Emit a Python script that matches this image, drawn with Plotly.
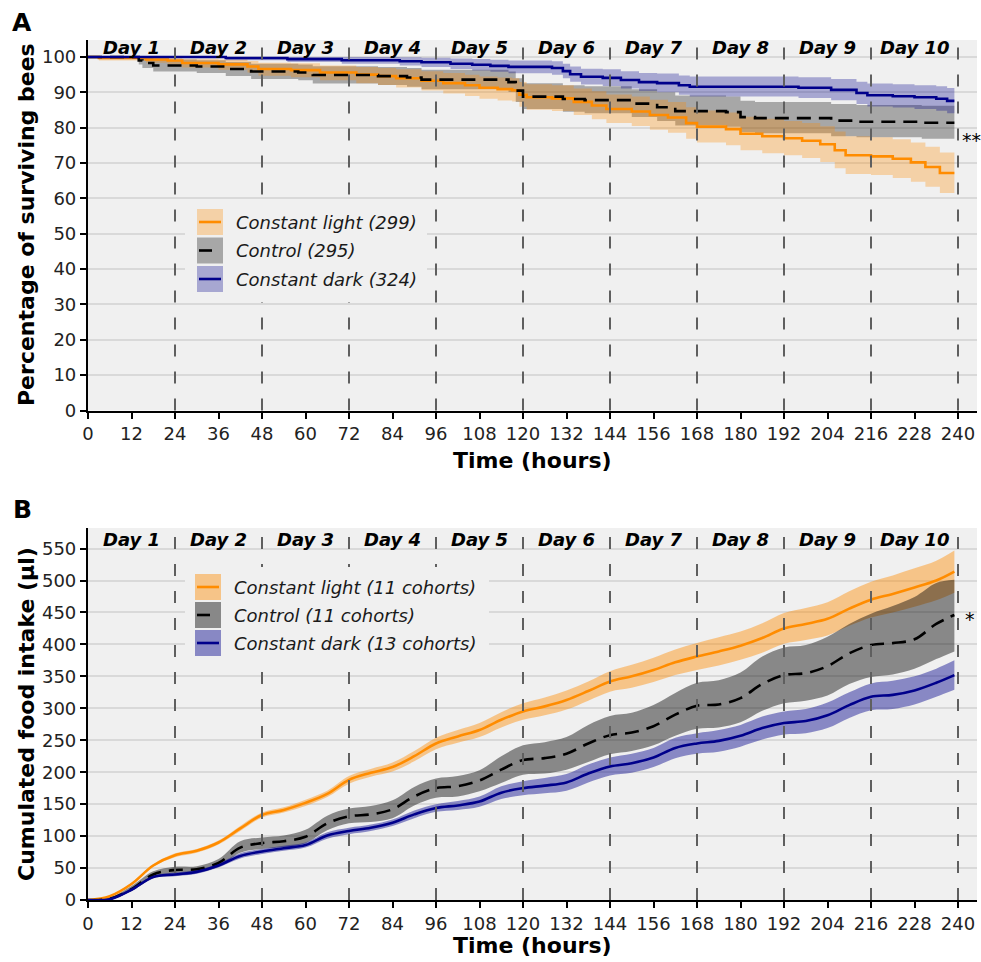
import plotly.graph_objects as go

W, H = 981, 962
FONT = "DejaVu Sans"

# ---------------- Panel A: survival (Kaplan-Meier steps, 95% CI) ----------------
light_t = [0, 3, 16, 22, 26, 36, 44, 47, 56, 64, 74, 80, 85, 92, 98, 104, 108, 113, 117, 119, 121, 128,
           134, 139, 143, 150, 155, 160, 165, 168, 176, 180, 186, 192, 197, 202, 206, 209, 216, 222, 227,
           231, 235, 239]
light_s = [100, 99.7, 99.3, 99.0, 98.3, 97.9, 97.3, 96.6, 96.3, 95.6, 95.0, 94.6, 94.0, 93.3, 92.6, 92.0,
           91.3, 90.9, 90.6, 89.3, 88.6, 88.3, 87.3, 86.3, 85.3, 84.6, 83.6, 82.9, 81.3, 80.3, 79.6, 78.3,
           77.6, 77.0, 76.3, 75.3, 73.6, 72.2, 71.9, 71.2, 70.2, 68.9, 67.2, 67.2]
light_lo = [100, 99.0, 98.4, 97.9, 97.0, 96.4, 95.6, 94.7, 94.3, 93.4, 92.6, 92.1, 91.4, 90.5, 89.7, 89.0,
            88.2, 87.7, 87.4, 85.9, 85.1, 84.7, 83.6, 82.4, 81.3, 80.5, 79.4, 78.6, 76.9, 75.8, 75.0, 73.6,
            72.8, 72.2, 71.4, 70.3, 68.5, 66.9, 66.6, 65.8, 64.7, 63.3, 61.5, 61.5]
light_hi = [100, 100, 100, 100, 99.5, 99.3, 98.9, 98.4, 98.2, 97.6, 97.2, 96.9, 96.5, 96.0, 95.5, 95.0,
            94.5, 94.2, 94.0, 92.9, 92.3, 92.0, 91.1, 90.3, 89.4, 88.8, 87.9, 87.3, 85.8, 84.9, 84.3, 83.1,
            82.5, 81.9, 81.3, 80.4, 78.9, 77.6, 77.3, 76.7, 75.8, 74.6, 73.0, 73.0]

ctrl_t = [0, 14, 15, 18, 30, 38, 45, 58, 62, 80, 88, 92, 116, 118, 120, 131, 137, 150, 157, 162, 176, 180,
          184, 205, 212, 230, 239]
ctrl_s = [100, 99.0, 98.3, 97.6, 97.3, 96.6, 95.9, 95.6, 94.9, 94.6, 94.2, 93.6, 92.9, 90.5, 88.8, 88.1,
          87.8, 86.8, 85.8, 84.7, 84.4, 83.0, 82.7, 82.0, 81.7, 81.4, 81.4]
ctrl_lo = [100, 97.9, 96.9, 95.9, 95.5, 94.6, 93.8, 93.4, 92.5, 92.1, 91.6, 90.9, 90.1, 87.3, 85.3, 84.5,
           84.1, 83.0, 81.9, 80.6, 80.3, 78.8, 78.4, 77.6, 77.3, 76.9, 76.9]
ctrl_hi = [100, 100, 99.7, 99.3, 99.1, 98.6, 98.1, 97.9, 97.4, 97.2, 96.9, 96.4, 95.9, 94.0, 92.6, 92.0,
           91.7, 90.9, 90.0, 89.1, 88.8, 87.6, 87.3, 86.7, 86.4, 86.2, 86.2]

dark_t = [0, 38, 55, 70, 86, 92, 100, 106, 111, 116, 128, 131, 133, 136, 142, 147, 152, 157, 163, 166, 196,
          205, 212, 215, 222, 228, 234, 237, 239]
dark_s = [100, 99.7, 99.4, 99.1, 98.8, 98.5, 98.1, 97.8, 97.5, 97.2, 96.9, 96.0, 95.1, 94.4, 94.1, 93.5,
          92.9, 92.6, 92.0, 91.6, 91.3, 90.7, 89.8, 89.2, 88.9, 88.6, 88.2, 87.6, 87.6]
dark_lo = [100, 99.1, 98.6, 98.1, 97.6, 97.2, 96.6, 96.2, 95.8, 95.4, 95.0, 94.0, 93.0, 92.2, 91.8, 91.1,
           90.4, 90.0, 89.3, 88.8, 88.4, 87.8, 86.7, 86.0, 85.7, 85.3, 84.8, 84.1, 84.1]
dark_hi = [100, 100, 100, 100, 99.9, 99.8, 99.6, 99.4, 99.2, 99.0, 98.8, 98.1, 97.3, 96.7, 96.5, 96.0,
           95.5, 95.3, 94.8, 94.5, 94.3, 93.8, 93.0, 92.5, 92.3, 92.0, 91.7, 91.2, 91.2]

# ---------------- Panel B: cumulated food intake (mean and CI) ----------------
b_t = [0, 6, 12, 18, 24, 30, 36, 42, 48, 54, 60, 66, 72, 78, 84, 90, 96, 102, 108, 114, 120, 126, 132,
       138, 144, 150, 156, 162, 168, 174, 180, 186, 192, 198, 204, 210, 216, 222, 228, 234, 239]
light_mean = [0, 6, 25, 54, 70, 77, 90, 112, 133, 141, 152, 166, 188, 199, 208, 225, 245, 256, 266, 282,
              295, 303, 313, 327, 342, 350, 360, 372, 381, 389, 398, 410, 425, 432, 440, 456, 470, 479, 489,
              500, 514]
light_low = [0, 5, 23, 52, 67, 74, 87, 108, 129, 137, 147, 161, 182, 193, 201, 217, 236, 246, 255, 270,
             282, 289, 298, 312, 326, 332, 341, 352, 360, 367, 376, 387, 401, 407, 414, 429, 442, 450, 459,
             469, 481]
light_high = [0, 7, 27, 56, 73, 80, 93, 116, 137, 145, 157, 171, 194, 205, 215, 233, 254, 266, 277, 294,
              308, 317, 328, 342, 358, 368, 379, 392, 402, 411, 420, 433, 449, 457, 466, 483, 498, 508, 519,
              531, 547]
ctrl_mean = [0, 2, 17, 40, 47, 48, 58, 82, 89, 92, 99, 120, 131, 134, 142, 162, 175, 178, 187, 204, 219,
             222, 229, 245, 258, 262, 272, 290, 304, 306, 316, 338, 352, 355, 366, 386, 399, 402, 408, 432,
             446]
ctrl_low = [0, 1, 14, 35, 42, 43, 52, 74, 80, 83, 89, 109, 120, 122, 128, 148, 160, 162, 170, 183, 196,
            198, 204, 216, 228, 233, 242, 257, 268, 270, 278, 296, 308, 312, 320, 338, 349, 353, 362, 377,
            389]
ctrl_high = [0, 4, 22, 45, 52, 53, 64, 92, 98, 101, 110, 132, 143, 147, 156, 177, 190, 194, 203, 225, 242,
             247, 255, 274, 288, 293, 305, 324, 340, 344, 356, 381, 395, 399, 412, 432, 448, 460, 474, 496,
             501]
dark_mean = [0, 1, 16, 36, 40, 44, 54, 69, 76, 81, 86, 101, 108, 113, 121, 134, 144, 148, 154, 168, 175,
             179, 184, 198, 209, 214, 223, 238, 245, 249, 257, 269, 277, 280, 289, 305, 318, 321, 328, 340,
             352]
dark_low = [0, 0, 14, 34, 37, 41, 51, 65, 72, 77, 82, 96, 103, 108, 116, 128, 138, 141, 146, 158, 164,
            167, 171, 184, 195, 199, 208, 222, 229, 232, 240, 251, 259, 261, 269, 285, 297, 299, 306, 318,
            329]
dark_high = [0, 2, 18, 38, 43, 47, 57, 73, 80, 85, 90, 106, 113, 118, 126, 140, 150, 155, 162, 178, 186,
             191, 197, 212, 223, 229, 238, 254, 261, 266, 274, 287, 295, 299, 309, 325, 339, 343, 350, 362,
             375]

day_labels = ["Day %d" % d for d in range(1, 11)]
hour_ticks = list(range(0, 241, 12))
surv_ticks = list(range(0, 101, 10))
food_ticks = list(range(0, 551, 50))

legend_a = ["Constant light (299)", "Control (295)", "Constant dark (324)"]
legend_b = ["Constant light (11 cohorts)", "Control (11 cohorts)", "Constant dark (13 cohorts)"]

ORANGE = "#FF8C00"
NAVY = "#00008B"
BLACK = "#000000"


def fill_rgba(hex_color, alpha):
    r, g, b = int(hex_color[1:3], 16), int(hex_color[3:5], 16), int(hex_color[5:7], 16)
    return "rgba(%d,%d,%d,%.2f)" % (r, g, b, alpha)


ALPHA_A, ALPHA_B = 0.30, 0.43

fig = go.Figure()


def add_band(x, lo, hi, color, alpha, xa, ya, shape):
    fig.add_trace(go.Scatter(x=x, y=lo, mode="lines", line=dict(width=0, shape=shape),
                             xaxis=xa, yaxis=ya, showlegend=False, hoverinfo="skip"))
    fig.add_trace(go.Scatter(x=x, y=hi, mode="lines", line=dict(width=0, shape=shape),
                             fill="tonexty", fillcolor=fill_rgba(color, alpha),
                             xaxis=xa, yaxis=ya, showlegend=False, hoverinfo="skip"))


def add_line(x, y, color, dash, xa, ya, shape):
    fig.add_trace(go.Scatter(x=x, y=y, mode="lines",
                             line=dict(color=color, width=2.6, dash=dash, shape=shape),
                             xaxis=xa, yaxis=ya, showlegend=False))


# Panel A traces
add_band(ctrl_t, ctrl_lo, ctrl_hi, BLACK, ALPHA_A, "x", "y", "hv")
add_band(light_t, light_lo, light_hi, ORANGE, ALPHA_A, "x", "y", "hv")
add_band(dark_t, dark_lo, dark_hi, NAVY, ALPHA_A, "x", "y", "hv")
add_line(light_t, light_s, ORANGE, "solid", "x", "y", "hv")
add_line(ctrl_t, ctrl_s, BLACK, "14px,8px", "x", "y", "hv")
add_line(dark_t, dark_s, NAVY, "solid", "x", "y", "hv")

# Panel B traces
add_band(b_t, light_low, light_high, ORANGE, ALPHA_B, "x2", "y2", "spline")
add_band(b_t, ctrl_low, ctrl_high, BLACK, ALPHA_B, "x2", "y2", "spline")
add_band(b_t, dark_low, dark_high, NAVY, ALPHA_B, "x2", "y2", "spline")
add_line(b_t, light_mean, ORANGE, "solid", "x2", "y2", "spline")
add_line(b_t, ctrl_mean, BLACK, "14px,8px", "x2", "y2", "spline")
add_line(b_t, dark_mean, NAVY, "solid", "x2", "y2", "spline")


def px_x(x):
    return x / W


def px_y(y):
    return 1 - y / H


X_DOM = [px_x(88), px_x(977)]
A_DOM = [px_y(410.5), px_y(40)]
B_DOM = [px_y(900), px_y(528)]
X_RANGE = [0, 889 / 3.625]

tick_font = dict(family=FONT, size=18, color="#222222")
common_x = dict(domain=X_DOM, range=X_RANGE, tickvals=hour_ticks, ticks="outside", ticklen=6,
                tickwidth=1.8, tickcolor="black", showline=True, linecolor="black", linewidth=2.2,
                showgrid=False, zeroline=False, tickfont=tick_font, fixedrange=True, automargin=False)
common_y = dict(ticks="outside", ticklen=6, tickwidth=1.8, tickcolor="black", showline=True,
                linecolor="black", linewidth=2.2, showgrid=True, gridcolor="#d9d9d9", gridwidth=1.6,
                zeroline=False, tickfont=tick_font, fixedrange=True, automargin=False)

fig.update_layout(
    width=W, height=H, margin=dict(l=0, r=0, t=0, b=0, autoexpand=False),
    paper_bgcolor="white", plot_bgcolor="#f0f0f0", showlegend=False,
    xaxis=dict(anchor="y", **common_x),
    yaxis=dict(anchor="x", domain=A_DOM, range=[0, 370.5 / 3.535], tickvals=surv_ticks, **common_y),
    xaxis2=dict(anchor="y2", **common_x),
    yaxis2=dict(anchor="x2", domain=B_DOM, range=[0, 372 / 0.639], tickvals=food_ticks, **common_y),
)

shapes = []
annotations = []

# Day separators
for xa, ya in (("x", "y domain"), ("x2", "y2 domain")):
    for h in range(24, 241, 24):
        shapes.append(dict(type="line", xref=xa, yref=ya, x0=h, x1=h, y0=0, y1=1, layer="above",
                           line=dict(color="#5f5f5f", width=2, dash="12px,15px")))

# Day labels
for i, lab in enumerate(day_labels):
    annotations.append(dict(x=12 + 24 * i, y=px_y(47), xref="x", yref="paper", text="<b><i>%s</i></b>" % lab,
                            showarrow=False, font=dict(family=FONT, size=18, color="black"),
                            xanchor="center", yanchor="middle"))
    annotations.append(dict(x=12 + 24 * i, y=px_y(539), xref="x2", yref="paper", text="<b><i>%s</i></b>" % lab,
                            showarrow=False, font=dict(family=FONT, size=18, color="black"),
                            xanchor="center", yanchor="middle"))


def legend(box, sw_x, sw_tops, text_x, labels, alpha):
    x0, x1, y0, y1 = box
    shapes.append(dict(type="rect", xref="paper", yref="paper", x0=px_x(x0), x1=px_x(x1),
                       y0=px_y(y1), y1=px_y(y0), fillcolor="#f0f0f0", line=dict(width=0), layer="above"))
    colors = [ORANGE, BLACK, NAVY]
    for k, (top, lab) in enumerate(zip(sw_tops, labels)):
        shapes.append(dict(type="rect", xref="paper", yref="paper", x0=px_x(sw_x), x1=px_x(sw_x + 26),
                           y0=px_y(top + 26), y1=px_y(top), fillcolor=fill_rgba(colors[k], alpha),
                           line=dict(width=0), layer="above"))
        seg_end = sw_x + 15 if k == 1 else sw_x + 24
        shapes.append(dict(type="line", xref="paper", yref="paper", x0=px_x(sw_x + 2), x1=px_x(seg_end),
                           y0=px_y(top + 13), y1=px_y(top + 13), layer="above",
                           line=dict(color=colors[k], width=2.6)))
        annotations.append(dict(x=px_x(text_x), y=px_y(top + 13), xref="paper", yref="paper",
                                text="<i>%s</i>" % lab, showarrow=False, xanchor="left", yanchor="middle",
                                font=dict(family=FONT, size=18, color="#1a1a1a")))


legend((185, 427, 201, 302), 197, [209, 237.5, 266], 234, legend_a, ALPHA_A)
legend((185, 489, 567, 664), 195, [574, 602, 630], 232, legend_b, ALPHA_B)

# Panel letters, axis titles and significance marks
bold = dict(family=FONT, size=22, color="black")
annotations += [
    dict(x=px_x(22), y=px_y(22), xref="paper", yref="paper", text="<b>A</b>", showarrow=False,
         font=dict(family=FONT, size=25, color="black"), xanchor="center", yanchor="middle"),
    dict(x=px_x(22), y=px_y(509), xref="paper", yref="paper", text="<b>B</b>", showarrow=False,
         font=dict(family=FONT, size=25, color="black"), xanchor="center", yanchor="middle"),
    dict(x=px_x(532), y=px_y(460), xref="paper", yref="paper", text="<b>Time (hours)</b>",
         showarrow=False, font=bold, xanchor="center", yanchor="middle"),
    dict(x=px_x(532), y=px_y(945), xref="paper", yref="paper", text="<b>Time (hours)</b>",
         showarrow=False, font=bold, xanchor="center", yanchor="middle"),
    dict(x=px_x(26), y=px_y(225), xref="paper", yref="paper", text="<b>Percentage of surviving bees</b>",
         showarrow=False, font=bold, textangle=-90, xanchor="center", yanchor="middle"),
    dict(x=px_x(26), y=px_y(714), xref="paper", yref="paper", text="<b>Cumulated food intake (µl)</b>",
         showarrow=False, font=bold, textangle=-90, xanchor="center", yanchor="middle"),
    dict(x=px_x(971), y=px_y(140), xref="paper", yref="paper", text="**", showarrow=False,
         font=dict(family=FONT, size=19, color="black"), xanchor="center", yanchor="middle"),
    dict(x=px_x(970), y=px_y(619), xref="paper", yref="paper", text="*", showarrow=False,
         font=dict(family=FONT, size=19, color="black"), xanchor="center", yanchor="middle"),
]

fig.update_layout(shapes=shapes, annotations=annotations)
fig.write_html("out.html")
